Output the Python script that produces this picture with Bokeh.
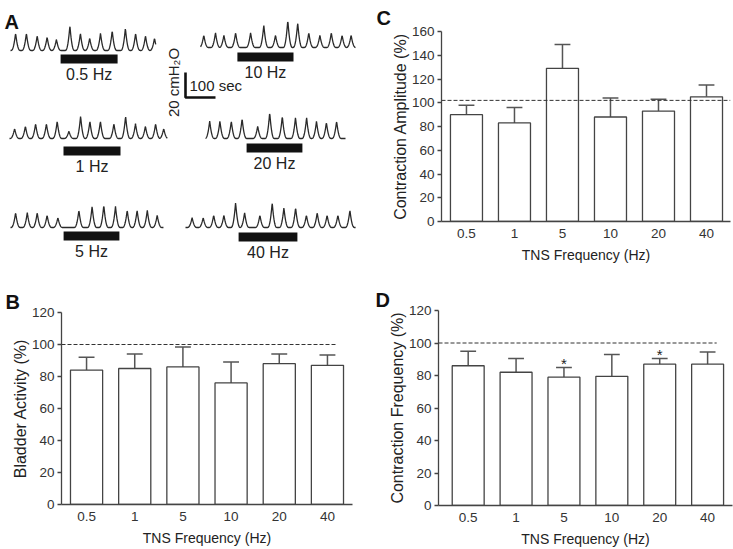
import numpy as np
from bokeh.plotting import figure
from bokeh.layouts import row, column
from bokeh.models import Range1d, FixedTicker, ColumnDataSource
from bokeh.core.properties import value
from bokeh.embed import file_html
from bokeh.resources import INLINE

FONT = "Liberation Sans"

# ---------------- data ----------------
freq_labels = ["0.5", "1", "5", "10", "20", "40"]

bladder_activity = [84, 85, 86, 76, 88, 87]
bladder_activity_sem = [8, 9, 12.5, 13, 6, 6.5]

contraction_amplitude = [90, 83, 129, 88, 93, 105]
contraction_amplitude_sem = [8, 13, 20, 16, 10, 10]

contraction_frequency = [86, 82, 79, 79.5, 87, 87]
contraction_frequency_sem = [9, 8.5, 6, 13.5, 3.5, 7.5]
contraction_frequency_significant = ["5", "20"]

control_level_B = 100
control_level_C = 102
control_level_D = 100

# Panel A: cystometry traces (peak times in s, peak amplitudes in cmH2O)
trace_labels = ["0.5 Hz", "10 Hz", "1 Hz", "20 Hz", "5 Hz", "40 Hz"]
t_05hz = [17, 53, 89, 122, 153, 198, 233, 264, 300, 339, 383, 417, 450, 480]
a_05hz = [14, 14, 12, 11, 9, 20, 14, 10, 14, 16, 18, 14, 12, 10]
t_10hz = [11, 50, 78, 117, 167, 211, 250, 291, 324, 361, 398, 436, 472, 502]
a_10hz = [10, 12, 10, 12, 12, 18, 10, 22, 20, 12, 10, 12, 10, 10]
t_1hz = [17, 53, 87, 123, 159, 198, 237, 268, 303, 348, 387, 420, 453, 487, 514]
a_1hz = [8, 10, 12, 12, 14, 6, 18, 14, 14, 12, 18, 12, 10, 12, 8]
t_20hz = [14, 48, 86, 122, 174, 214, 256, 300, 337, 370, 403, 437]
a_20hz = [14, 14, 14, 16, 10, 21, 18, 17, 17, 14, 13, 14]
t_5hz = [17, 56, 89, 122, 158, 228, 272, 311, 350, 389, 422, 456, 489]
a_5hz = [12, 12, 12, 10, 8, 14, 17, 18, 17, 14, 14, 14, 10]
t_40hz = [22, 59, 94, 128, 167, 197, 248, 289, 328, 367, 403, 439, 472, 508, 548]
a_40hz = [8, 8, 10, 10, 20, 12, 10, 20, 16, 16, 10, 12, 10, 10, 14]
stim_start_s = [167, 123, 180, 137, 177, 177]
stim_end_s = [357, 310, 370, 323, 363, 373]
trace_duration_s = [485, 517, 527, 467, 510, 567]
scale_bar_cm = 20
scale_bar_s = 100

# ---------------- panel A ----------------
SEC_PER_PX = 100 / 30.0
CM_PER_PX = 20 / 25.0
# layout (panel pixels): trace x origin, baseline y, stimulation bar top y
trace_pos = [(10, 50, 54), (200, 47, 52), (9, 138, 146),
             (205, 138, 143), (10, 227, 231), (185, 227, 232)]
peak_times = [t_05hz, t_10hz, t_1hz, t_20hz, t_5hz, t_40hz]
peak_amps = [a_05hz, a_10hz, a_1hz, a_20hz, a_5hz, a_40hz]

pA = figure(width=370, height=287, x_range=Range1d(0, 370), y_range=Range1d(287, 0),
            output_backend="svg", toolbar_location=None,
            x_axis_location=None, y_axis_location=None,
            min_border=0, frame_align=False)
pA.outline_line_color = None
pA.grid.visible = False

HALF_W = 4.5  # half width of one contraction spike, px
for i in range(6):
    x0, base, bar_top = trace_pos[i]
    dur_px = trace_duration_s[i] / SEC_PER_PX
    xs = np.arange(0, dur_px + 0.01, 0.35)
    ys = np.zeros_like(xs)
    for t, a in zip(peak_times[i], peak_amps[i]):
        d = np.abs(xs - t / SEC_PER_PX)
        shape = np.clip(1 - d / HALF_W, 0, None) ** 2.2
        ys = np.maximum(ys, (a / CM_PER_PX) * shape)
    pA.line(x0 + xs, base - ys, line_color="#2a2a2a", line_width=1.3)
    left = x0 + stim_start_s[i] / SEC_PER_PX
    right = x0 + stim_end_s[i] / SEC_PER_PX
    pA.quad(left=[left], right=[right], top=[bar_top], bottom=[bar_top + 9],
            fill_color="#111111", line_color=None)
    pA.text(x=[(left + right) / 2], y=[bar_top + 20], text=[trace_labels[i]],
            text_align="center", text_baseline="middle",
            text_font=value(FONT), text_font_size="16px", text_color="#222222")

# scale bar
sbx, sby = 185, 97
pA.line(x=[sbx, sbx, sbx + scale_bar_s / SEC_PER_PX],
        y=[sby - scale_bar_cm / CM_PER_PX, sby, sby],
        line_color="#111111", line_width=2.6)
pA.text(x=[sbx + 4], y=[sby - 12], text=[f"{scale_bar_s} sec"],
        text_align="left", text_baseline="middle",
        text_font=value(FONT), text_font_size="15px", text_color="#222222")
pA.text(x=[173], y=[82], text=[f"{scale_bar_cm} cmH\u2082O"], angle=np.pi / 2,
        text_align="center", text_baseline="middle",
        text_font=value(FONT), text_font_size="15px", text_color="#222222")
pA.text(x=[4], y=[21], text=["A"], text_align="left", text_baseline="alphabetic",
        text_font=value(FONT), text_font_size="20px", text_font_style="bold",
        text_color="#111111")


# ---------------- bar panels ----------------
def bar_panel(vals, sems, ylabel, ymax, w, h, ml, mr, mt, mb, xr, ctrl, dash_x1,
              letter, loff, lstand, stars=()):
    p = figure(width=w, height=h, x_range=Range1d(*xr), y_range=Range1d(0, ymax),
               output_backend="svg", toolbar_location=None,
               min_border_left=ml, min_border_right=mr,
               min_border_top=mt, min_border_bottom=mb, frame_align=False,
               title=letter)
    p.outline_line_color = None
    p.grid.visible = False
    p.title.align = "left"
    p.title.offset = loff
    p.title.standoff = lstand
    p.title.text_font = FONT
    p.title.text_font_size = "20px"
    p.title.text_font_style = "bold"
    p.title.text_color = "#111111"

    xs = list(range(len(vals)))
    tops = [v + s for v, s in zip(vals, sems)]
    src = ColumnDataSource(dict(x=xs, top=vals, etop=tops,
                                cl=[x - 0.165 for x in xs], cr=[x + 0.165 for x in xs]))
    p.segment(x0="x", y0="top", x1="x", y1="etop", source=src,
              line_color="#555555", line_width=1.5)
    p.segment(x0="cl", y0="etop", x1="cr", y1="etop", source=src,
              line_color="#555555", line_width=1.5)
    p.vbar(x="x", top="top", bottom=0, width=0.667, source=src,
           fill_color="white", line_color="#444444", line_width=1.3)
    p.segment(x0=[xr[0]], y0=[ctrl], x1=[dash_x1], y1=[ctrl],
              line_color="#333333", line_width=1.0, line_dash="4 2")
    if stars:
        sx = [freq_labels.index(s) for s in stars]
        sy = [tops[i] + 2.5 for i in sx]
        p.text(x=sx, y=sy, text=["*"] * len(sx), text_align="center",
               text_baseline="middle", text_font=value(FONT),
               text_font_size="15px", text_color="#222222")

    xa = p.xaxis[0]
    xa.ticker = FixedTicker(ticks=xs)
    xa.major_label_overrides = {i: lab for i, lab in enumerate(freq_labels)}
    xa.major_tick_out = 0
    xa.major_tick_in = 0
    xa.minor_tick_line_color = None
    xa.major_label_standoff = 7
    xa.axis_label = "TNS Frequency (Hz)"
    xa.axis_label_standoff = 6

    ya = p.yaxis[0]
    ya.ticker = FixedTicker(ticks=list(range(0, ymax + 1, 20)))
    ya.major_tick_out = 4
    ya.major_tick_in = 0
    ya.minor_tick_line_color = None
    ya.major_label_standoff = 3
    ya.axis_label = ylabel
    ya.axis_label_standoff = 0

    for ax in (xa, ya):
        ax.axis_line_color = "#444444"
        ax.axis_line_width = 1.3
        ax.major_tick_line_color = "#444444" if ax is ya else None
        ax.major_tick_line_width = 1.3
        ax.major_label_text_font = FONT
        ax.major_label_text_font_size = "13.5px"
        ax.major_label_text_color = "#333333"
        ax.axis_label_text_font = FONT
        ax.axis_label_text_font_style = "normal"
        ax.axis_label_text_color = "#222222"
    xa.axis_label_text_font_size = "14px"
    ya.axis_label_text_font_size = "16px"
    return p


pB = bar_panel(bladder_activity, bladder_activity_sem, "Bladder Activity (%)", 120,
               370, 262, 61, 18, 25, 45, (-0.52, 5.52), control_level_B, 5.2,
               "B", -56, 0)
pC = bar_panel(contraction_amplitude, contraction_amplitude_sem,
               "Contraction Amplitude (%)", 160,
               363, 285, 71, 3, 31, 64, (-0.52, 5.5), control_level_C, 5.5,
               "C", -65, 6)
pD = bar_panel(contraction_frequency, contraction_frequency_sem,
               "Contraction Frequency (%)", 120,
               363, 264, 68, 1, 25, 43, (-0.62, 5.52), control_level_D, 5.19,
               "D", -63, 0, stars=contraction_frequency_significant)

layout = row(column(pA, pB), column(pC, pD))
open("out.html", "w").write(file_html(layout, INLINE))
